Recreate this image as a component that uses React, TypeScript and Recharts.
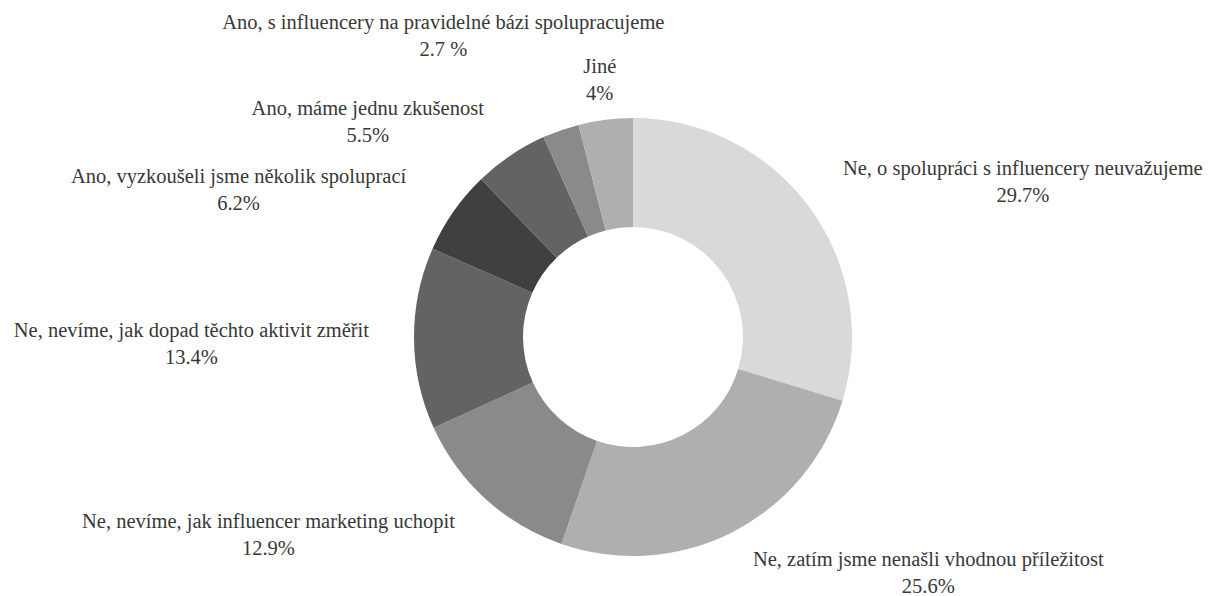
import React from 'react';
import { PieChart, Pie, Cell } from 'recharts';

// kategorie a hodnoty (%), po směru hodinových ručiček od 12 hodin
const NAMES = [
  'Ne, o spolupráci s influencery neuvažujeme',
  'Ne, zatím jsme nenašli vhodnou příležitost',
  'Ne, nevíme, jak influencer marketing uchopit',
  'Ne, nevíme, jak dopad těchto aktivit změřit',
  'Ano, vyzkoušeli jsme několik spoluprací',
  'Ano, máme jednu zkušenost',
  'Ano, s influencery na pravidelné bázi spolupracujeme',
  'Jiné',
];
const VALUES = [29.7, 25.6, 12.9, 13.4, 6.2, 5.5, 2.7, 4];
const PCT_LABELS = ['29.7%', '25.6%', '12.9%', '13.4%', '6.2%', '5.5%', '2.7 %', '4%'];

const COLORS = ['#d9d9d9', '#afafaf', '#8a8a8a', '#636363', '#404040', '#636363', '#8a8a8a', '#afafaf'];

// posun popisků oproti výchozí poloze u okraje výseče (jako v Excelu)
const LABEL_NUDGE: [number, number][] = [
  [26, -6], [16, 6], [-24, 6], [-35, 2], [-39, -4], [-21, -7], [107, -63], [12, -7],
];

const FONT = '"Liberation Serif", "Times New Roman", serif';
const FONT_SIZE = 20.5;
const LINE_GAP = 27;
const RAD = Math.PI / 180;

const data = NAMES.map((name, i) => ({ name, value: VALUES[i] }));

let ctx: CanvasRenderingContext2D | null = null;
function textWidth(s: string): number {
  if (!ctx && typeof document !== 'undefined') {
    ctx = document.createElement('canvas').getContext('2d');
  }
  if (!ctx) return s.length * 8.5;
  ctx.font = `${FONT_SIZE}px ${FONT}`;
  return ctx.measureText(s).width;
}

const renderLabel = (props: any) => {
  const { cx, cy, midAngle, outerRadius, index } = props;
  const dx = Math.cos(-midAngle * RAD);
  const dy = Math.sin(-midAngle * RAD);
  const r = outerRadius + 10;
  const px = cx + r * dx;
  const py = cy + r * dy;
  const w = textWidth(NAMES[index]);
  const [nx, ny] = LABEL_NUDGE[index];
  const lx = px + Math.sign(dx) * w / 2 + nx;
  const ly = py + dy * 26 + ny;
  return (
    <text x={lx} y={ly} textAnchor="middle" fill="#383838"
      style={{ fontFamily: FONT, fontSize: FONT_SIZE }}>
      <tspan x={lx} dy={-4}>{NAMES[index]}</tspan>
      <tspan x={lx} dy={LINE_GAP}>{PCT_LABELS[index]}</tspan>
    </text>
  );
};

export default function App() {
  return (
    <div style={{ position: 'absolute', left: 0, top: 0, width: 1208, height: 596, background: '#fff' }}>
      <PieChart width={1208} height={596} margin={{ top: 0, right: 0, bottom: 0, left: 0 }}>
        <Pie data={data} dataKey="value" nameKey="name"
          cx={633} cy={337} innerRadius={110} outerRadius={219}
          startAngle={90} endAngle={-270}
          stroke="none" label={renderLabel} labelLine={false}
          isAnimationActive={false}>
          {data.map((_, i) => <Cell key={i} fill={COLORS[i]} />)}
        </Pie>
      </PieChart>
    </div>
  );
}
